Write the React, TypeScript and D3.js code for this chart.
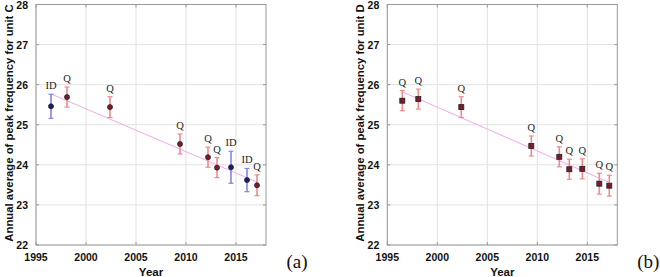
import React from "react";
import * as d3 from "d3";

const yearsC = [1996.5, 1998.1, 2002.4, 2009.4, 2012.2, 2013.1, 2014.5, 2016.1, 2017.1];
const valuesC = [25.46, 25.69, 25.44, 24.52, 24.19, 23.93, 23.94, 23.62, 23.49];
const errorsC = [0.3, 0.25, 0.26, 0.25, 0.25, 0.25, 0.4, 0.29, 0.26];
const labelsC = ["ID", "Q", "Q", "Q", "Q", "Q", "ID", "ID", "Q"];
const fitC = [[1996.5, 25.77], [2017.1, 23.57]];

const yearsD = [1996.5, 1998.1, 2002.4, 2009.4, 2012.2, 2013.2, 2014.5, 2016.2, 2017.2];
const valuesD = [25.6, 25.64, 25.44, 24.47, 24.2, 23.89, 23.9, 23.53, 23.48];
const errorsD = [0.25, 0.25, 0.26, 0.25, 0.25, 0.25, 0.25, 0.26, 0.26];
const labelsD = ["Q", "Q", "Q", "Q", "Q", "Q", "Q", "Q", "Q"];
const fitD = [[1996.5, 25.82], [2017.1, 23.57]];

const xTicks = [1995, 2000, 2005, 2010, 2015];
const yTicks = [22, 23, 24, 25, 26, 27, 28];

const SANS = "'Liberation Sans', Arial, Helvetica, sans-serif";
const SERIF = "'Liberation Serif', 'Times New Roman', serif";

type PanelProps = {
  x0: number;
  years: number[];
  values: number[];
  errors: number[];
  labels: string[];
  fit: number[][];
  unit: string;
  tag: string;
  square: boolean;
};

function Panel({ x0, years, values, errors, labels, fit, unit, tag, square }: PanelProps) {
  const x = d3.scaleLinear().domain([1995, 2018]).range([x0, x0 + 230]);
  const y = d3.scaleLinear().domain([22, 28]).range([245, 4.5]);
  const [l, r] = x.range();
  const [b, t] = y.range();
  const axisCol = "#999";
  const line = d3.line<number[]>().x((d) => x(d[0])).y((d) => y(d[1]));
  return (
    <g>
      {xTicks.map((v) => (
        <line key={"gx" + v} x1={x(v)} x2={x(v)} y1={b} y2={t} stroke="#e2e2e2" strokeWidth={1} />
      ))}
      {yTicks.map((v) => (
        <line key={"gy" + v} x1={l} x2={r} y1={y(v)} y2={y(v)} stroke="#e2e2e2" strokeWidth={1} />
      ))}
      <rect x={l} y={t} width={r - l} height={b - t} fill="none" stroke={axisCol} strokeWidth={1} />
      {xTicks.map((v) => (
        <g key={"tx" + v}>
          <line x1={x(v)} x2={x(v)} y1={b} y2={b - 3} stroke={axisCol} />
          <line x1={x(v)} x2={x(v)} y1={t} y2={t + 3} stroke={axisCol} />
          <text x={x(v)} y={261} textAnchor="middle" style={{ fontFamily: SANS, fontWeight: 700, fontSize: 10.5 }} fill="#111">
            {v}
          </text>
        </g>
      ))}
      {yTicks.map((v) => (
        <g key={"ty" + v}>
          <line x1={l} x2={l + 3} y1={y(v)} y2={y(v)} stroke={axisCol} />
          <line x1={r} x2={r - 3} y1={y(v)} y2={y(v)} stroke={axisCol} />
          <text x={l - 8} y={y(v) + 4} textAnchor="end" style={{ fontFamily: SANS, fontWeight: 700, fontSize: 10.5 }} fill="#111">
            {v}
          </text>
        </g>
      ))}
      <text x={(l + r) / 2} y={275.5} textAnchor="middle" style={{ fontFamily: SANS, fontWeight: 700, fontSize: 11.5 }} fill="#111">
        Year
      </text>
      <text
        transform={`translate(${l - 23},${123}) rotate(-90)`}
        textAnchor="middle"
        style={{ fontFamily: SANS, fontWeight: 700, fontSize: 11.3 }}
        fill="#111"
      >
        {"Annual average of peak frequency for unit " + unit}
      </text>
      <path d={line(fit) || ""} stroke="#f0a8f0" strokeWidth={1} fill="none" />
      {years.map((yr, i) => {
        const isID = labels[i] === "ID";
        const ec = isID ? "#8484e8" : "#ee8a8a";
        const mc = isID ? "#1c1c6a" : "#7a1c2c";
        const cx = x(yr);
        const cy = y(values[i]);
        const top = y(values[i] + errors[i]);
        const bot = y(values[i] - errors[i]);
        return (
          <g key={"p" + i}>
            <line x1={cx} x2={cx} y1={top} y2={bot} stroke={ec} strokeWidth={1.6} />
            <line x1={cx - 2.5} x2={cx + 2.5} y1={top} y2={top} stroke={ec} strokeWidth={1.2} />
            <line x1={cx - 2.5} x2={cx + 2.5} y1={bot} y2={bot} stroke={ec} strokeWidth={1.2} />
            {square ? (
              <rect x={cx - 2.5} y={cy - 2.5} width={5} height={5} fill={mc} stroke="#222" strokeWidth={0.8} />
            ) : (
              <circle cx={cx} cy={cy} r={2.5} fill={mc} stroke="#222" strokeWidth={0.8} />
            )}
            <text x={cx} y={top - 5} textAnchor="middle" style={{ fontFamily: SERIF, fontSize: 10.5 }} fill="#222">
              {labels[i]}
            </text>
          </g>
        );
      })}
      <text x={r + 31} y={268} textAnchor="middle" style={{ fontFamily: SERIF, fontSize: 19 }} fill="#111">
        {tag}
      </text>
    </g>
  );
}

export default function App() {
  return (
    <svg width={660} height={277} style={{ position: "absolute", left: 0, top: 0, background: "#fff" }}>
      <rect width={660} height={277} fill="#fff" />
      <Panel x0={36} years={yearsC} values={valuesC} errors={errorsC} labels={labelsC} fit={fitC} unit="C" tag="(a)" square={false} />
      <Panel x0={387.3} years={yearsD} values={valuesD} errors={errorsD} labels={labelsD} fit={fitD} unit="D" tag="(b)" square={true} />
    </svg>
  );
}
